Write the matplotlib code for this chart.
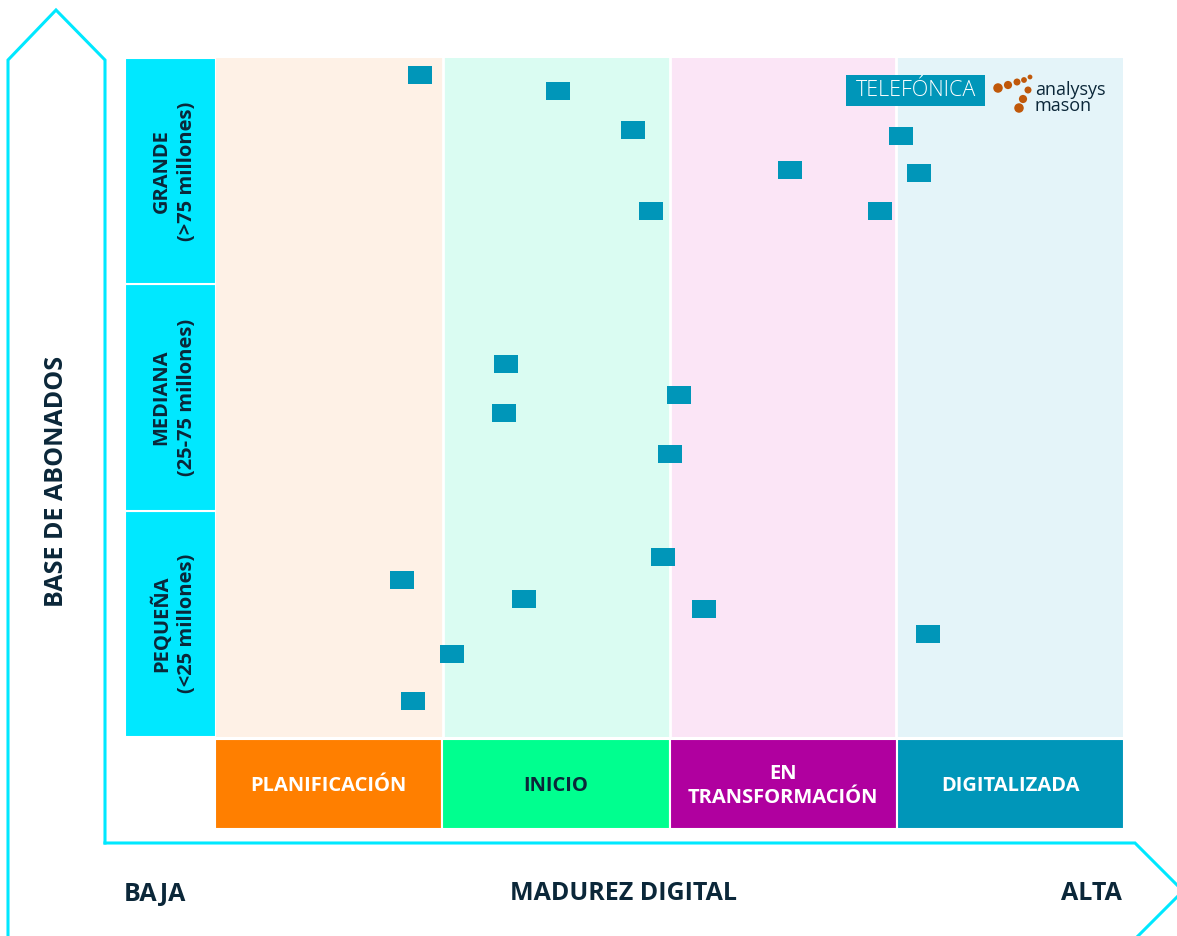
import matplotlib
matplotlib.use("Agg")
import matplotlib.pyplot as plt
from matplotlib.patches import Rectangle
import numpy as np

# ---------------- data ----------------
maturity_stages = ["PLANIFICACIÓN", "INICIO", "EN\nTRANSFORMACIÓN", "DIGITALIZADA"]
size_groups = ["PEQUEÑA\n(<25 millones)", "MEDIANA\n(25-75 millones)", "GRANDE\n(>75 millones)"]
# operator positions: digital maturity score (0-4) and subscriber base score (0-3)
maturity_score = [0.90, 1.51, 1.84, 1.92, 2.53, 3.02, 3.10, 2.93,
                  1.28, 2.04, 1.27, 2.00,
                  1.97, 0.82, 1.36, 2.15, 3.14, 1.04, 0.87]
subscriber_score = [2.925, 2.854, 2.682, 2.324, 2.505, 2.655, 2.492, 2.324,
                    1.648, 1.511, 1.432, 1.250,
                    0.795, 0.694, 0.610, 0.566, 0.455, 0.367, 0.159]

# ---------------- styling ----------------
W, H = 1177, 936
DARK = "#0B2739"
CYAN = "#00E8FF"
BLUE = "#0096B9"
col_bg = ["#FEF1E6", "#DAFCF2", "#FBE5F6", "#E4F4F9"]
box_col = ["#FF7F00", "#00FF8F", "#B0009F", "#0096B9"]
box_txt = ["white", DARK, "white", "white"]
FONT = "Open Sans"

fig = plt.figure(figsize=(W / 100, H / 100), dpi=100)


def px_axes(x0, y0, x1, y1):
    """axes from pixel box (top-left origin)"""
    return fig.add_axes([x0 / W, 1 - y1 / H, (x1 - x0) / W, (y1 - y0) / H])


# decoration overlay in pixel coordinates
deco = fig.add_axes([0, 0, 1, 1], zorder=0)
deco.set_xlim(0, W)
deco.set_ylim(H, 0)
deco.axis("off")
lw = 2.2
# vertical arrow
deco.plot([8, 8, 56, 105, 105], [H + 5, 60, 10, 60, 843], color=CYAN, lw=lw, solid_joinstyle="miter")
# horizontal arrow
deco.plot([105, 1135, 1183, 1135], [843, 843, 891, 939], color=CYAN, lw=lw, solid_joinstyle="miter")
deco.text(57, 481, "BASE DE ABONADOS", rotation=90, ha="center", va="center",
          fontsize=18, fontweight="bold", color=DARK, family=FONT)
bot_fs = 18
deco.text(155, 894, "BAJA", ha="center", va="center", fontsize=bot_fs, fontweight="bold", color=DARK, family=FONT)
deco.text(623, 894, "MADUREZ DIGITAL", ha="center", va="center", fontsize=bot_fs, fontweight="bold", color=DARK, family=FONT)
deco.text(1091, 894, "ALTA", ha="center", va="center", fontsize=bot_fs, fontweight="bold", color=DARK, family=FONT)

# ---------------- main matrix ----------------
ax = px_axes(216, 58, 1123, 737)
ax.set_xlim(0, 4)
ax.set_ylim(0, 3)
for i, c in enumerate(col_bg):
    ax.axvspan(i, i + 1, color=c, lw=0, zorder=0)
for i in range(1, 4):
    ax.axvline(i, color="white", lw=2, zorder=1)
rect = [(-1.28, -1), (1.28, -1), (1.28, 1), (-1.28, 1), (-1.28, -1)]
ax.scatter(maturity_score, subscriber_score, marker=rect, s=16.6 ** 2, color=BLUE,
           linewidths=0, zorder=3)
ax.set_xticks([])
ax.set_yticks([])
for s in ax.spines.values():
    s.set_visible(False)

# ---------------- left size labels ----------------
axl = px_axes(125, 58, 216, 737)
axl.set_xlim(0, 1)
axl.set_ylim(0, 3)
axl.barh(np.arange(len(size_groups)) + 0.5, 1, height=1, color=CYAN, edgecolor="white", linewidth=1.5)
for i, lab in enumerate(size_groups):
    first, second = lab.split("\n")
    axl.text(0.40, i + 0.5, first, rotation=90, ha="center", va="center", fontsize=14.5,
             fontweight="bold", color=DARK, family=FONT)
    axl.text(0.68, i + 0.5, second, rotation=90, ha="center", va="center", fontsize=14.5,
             fontweight="bold", color=DARK, family=FONT)
axl.axis("off")

# ---------------- bottom stage boxes ----------------
axb = px_axes(215, 739, 1124, 829)
axb.set_xlim(0, 4)
axb.set_ylim(0, 1)
axb.bar(np.arange(len(maturity_stages)) + 0.5, 1, width=1, color=box_col, edgecolor="white", linewidth=1.5)
for i, lab in enumerate(maturity_stages):
    axb.text(i + 0.5, 0.475, lab, ha="center", va="center", fontsize=14.5, fontweight="bold",
             color=box_txt[i], family=FONT, linespacing=1.28)
axb.axis("off")

# ---------------- logos ----------------
logo = fig.add_axes([0, 0, 1, 1], zorder=5)
logo.set_xlim(0, W)
logo.set_ylim(H, 0)
logo.axis("off")
logo.add_patch(Rectangle((846, 75), 139, 31, color=BLUE, lw=0))
logo.text(915.5, 91, "TELEFÓNICA", ha="center", va="center", fontsize=15.5, color="white",
          family=FONT, fontweight="light")
dots_x = [998, 1008, 1017, 1024, 1030, 1028, 1023, 1019]
dots_y = [88, 85, 82, 80, 77, 90, 99, 108]
dots_d = [9.5, 8.2, 7.0, 5.8, 4.8, 7.0, 8.2, 9.5]
logo.scatter(dots_x, dots_y, s=[(d * 0.72) ** 2 for d in dots_d], color="#C0580A", lw=0)
logo.text(1035, 98, "analysys\nmason", ha="left", va="center", fontsize=13, color=DARK,
          family=FONT, linespacing=0.85)

fig.savefig("out.png", dpi=100)
